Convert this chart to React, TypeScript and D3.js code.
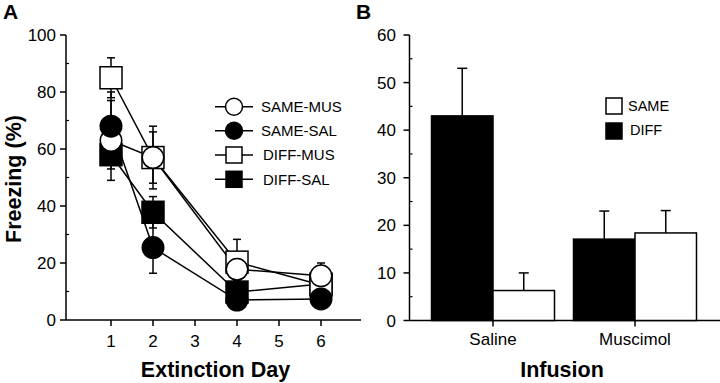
import React from "react";
import * as d3 from "d3";

// ---------- Data ----------
const days = [1, 2, 4, 6];
const seriesNames = ["SAME-MUS", "SAME-SAL", "DIFF-MUS", "DIFF-SAL"];
const sameMus = [63, 57, 17.8, 15.5];
const sameMusErr = [14, 11, 3, 4.5];
const sameSal = [68, 25.4, 7, 7.4];
const sameSalErr = [12, 9, 3, 3];
const diffMus = [85, 57, 20.3, 12.3];
const diffMusErr = [7, 9, 8, 4];
const diffSal = [58, 37.8, 9.8, 12.6];
const diffSalErr = [5, 5.5, 4, 4];
const dayTicks = [1, 2, 3, 4, 5, 6];
const freezeTicks = [0, 20, 40, 60, 80, 100];

const infusions = ["Saline", "Muscimol"];
const groups = ["DIFF", "SAME"];
const diffVals = [43, 17.1];
const diffErrs = [10, 5.9];
const sameVals = [6.3, 18.4];
const sameErrs = [3.7, 4.7];
const barTicks = [0, 10, 20, 30, 40, 50, 60];

const FONT = "'Liberation Sans', Arial, Helvetica, sans-serif";

type Series = { name: string; vals: number[]; errs: number[]; shape: "circle" | "square"; filled: boolean };
const series: Series[] = [
  { name: seriesNames[0], vals: sameMus, errs: sameMusErr, shape: "circle", filled: false },
  { name: seriesNames[1], vals: sameSal, errs: sameSalErr, shape: "circle", filled: true },
  { name: seriesNames[2], vals: diffMus, errs: diffMusErr, shape: "square", filled: false },
  { name: seriesNames[3], vals: diffSal, errs: diffSalErr, shape: "square", filled: true },
];
// drawing order of markers (bottom to top)
const markerOrder = [3, 2, 0, 1];

function Marker({ s, x, y, size }: { s: Series; x: number; y: number; size: number }) {
  const fill = s.filled ? "#000" : "#fff";
  if (s.shape === "circle") {
    return <circle cx={x} cy={y} r={size / 2} fill={fill} stroke="#000" strokeWidth={1.5} />;
  }
  return <rect x={x - size / 2} y={y - size / 2} width={size} height={size} fill={fill} stroke="#000" strokeWidth={1.5} />;
}

export default function App() {
  // Panel A scales
  const xA = d3.scaleLinear().domain([0, 7]).range([69, 363]);
  const yA = d3.scaleLinear().domain([0, 100]).range([320, 35]);
  const axisAX = 66;
  const lineGen = d3
    .line<number>()
    .x((_, i) => xA(days[i]))
    .y((v) => yA(v));
  const minorA = d3.range(10, 100, 20);

  // Panel B scales
  const xB = d3.scaleBand<string>().domain(infusions).range([422, 706]);
  const xInner = d3.scaleBand<string>().domain(groups).range([-61.5, 61.5]);
  const yB = d3.scaleLinear().domain([0, 60]).range([320.5, 35]);
  const axisBX = 409.5;
  const minorB = d3.range(5, 60, 10);

  const legendRows = [106.7, 130.7, 155, 179.3];

  return (
    <svg
      width={720}
      height={383}
      style={{ position: "absolute", left: 0, top: 0, background: "#fff" }}
      fontFamily={FONT}
    >
      <rect x={0} y={0} width={720} height={383} fill="#fff" />
      {/* ---------- Panel A ---------- */}
      <text x={3} y={19} fontSize={21} fontWeight="bold">A</text>
      {/* axes */}
      <line x1={axisAX} x2={axisAX} y1={yA(100)} y2={yA(0)} stroke="#000" strokeWidth={1.5} />
      <line x1={axisAX} x2={361} y1={yA(0)} y2={yA(0)} stroke="#000" strokeWidth={1.5} />
      {freezeTicks.map((t) => (
        <g key={"ya" + t}>
          <line x1={axisAX - 6} x2={axisAX} y1={yA(t)} y2={yA(t)} stroke="#000" strokeWidth={1.5} />
          <text x={56} y={yA(t)} dy="0.36em" textAnchor="end" fontSize={17}>{t}</text>
        </g>
      ))}
      {minorA.map((t) => (
        <line key={"yam" + t} x1={axisAX} x2={axisAX + 3} y1={yA(t)} y2={yA(t)} stroke="#000" strokeWidth={1.2} />
      ))}
      {dayTicks.map((d) => (
        <g key={"xa" + d}>
          <line x1={xA(d)} x2={xA(d)} y1={yA(0)} y2={yA(0) + 6} stroke="#000" strokeWidth={1.5} />
          <text x={xA(d)} y={347} textAnchor="middle" fontSize={17}>{d}</text>
        </g>
      ))}
      <text x={(xA(1) + xA(6)) / 2 - 0.5} y={377} textAnchor="middle" fontSize={21.5} fontWeight="bold">
        Extinction Day
      </text>
      <text
        transform={`translate(21,179) rotate(-90)`}
        textAnchor="middle"
        fontSize={21.5}
        fontWeight="bold"
      >
        Freezing (%)
      </text>
      {/* lines */}
      {series.map((s) => (
        <path key={"l" + s.name} d={lineGen(s.vals) || ""} fill="none" stroke="#000" strokeWidth={1.5} />
      ))}
      {/* error bars */}
      {series.map((s) =>
        s.vals.map((v, i) => {
          const x = xA(days[i]);
          const y1 = yA(v + s.errs[i]);
          const y2 = yA(v - s.errs[i]);
          return (
            <g key={"e" + s.name + i} stroke="#000" strokeWidth={1.5}>
              <line x1={x} x2={x} y1={y1} y2={y2} />
              <line x1={x - 4} x2={x + 4} y1={y1} y2={y1} />
              <line x1={x - 4} x2={x + 4} y1={y2} y2={y2} />
            </g>
          );
        })
      )}
      {/* markers */}
      {markerOrder.map((si) => {
        const s = series[si];
        return s.vals.map((v, i) => (
          <Marker key={"m" + s.name + i} s={s} x={xA(days[i])} y={yA(v)} size={s.shape === "circle" ? 21.5 : 22} />
        ));
      })}
      {/* legend A */}
      {series.map((s, i) => (
        <g key={"lg" + s.name}>
          <line x1={215} x2={253} y1={legendRows[i]} y2={legendRows[i]} stroke="#000" strokeWidth={1.5} />
          <Marker s={s} x={234} y={legendRows[i]} size={s.shape === "circle" ? 17 : 16} />
          <text x={s.shape === "circle" ? 261 : 263} y={legendRows[i]} dy="0.36em" fontSize={15}>
            {s.name}
          </text>
        </g>
      ))}

      {/* ---------- Panel B ---------- */}
      <text x={356} y={19} fontSize={21} fontWeight="bold">B</text>
      <line x1={axisBX} x2={axisBX} y1={yB(60)} y2={yB(0)} stroke="#000" strokeWidth={1.5} />
      <line x1={axisBX} x2={720} y1={yB(0)} y2={yB(0)} stroke="#000" strokeWidth={1.5} />
      {barTicks.map((t) => (
        <g key={"yb" + t}>
          <line x1={axisBX - 6} x2={axisBX} y1={yB(t)} y2={yB(t)} stroke="#000" strokeWidth={1.5} />
          <text x={396} y={yB(t)} dy="0.36em" textAnchor="end" fontSize={17}>{t}</text>
        </g>
      ))}
      {minorB.map((t) => (
        <line key={"ybm" + t} x1={axisBX} x2={axisBX + 3} y1={yB(t)} y2={yB(t)} stroke="#000" strokeWidth={1.2} />
      ))}
      {infusions.map((c, ci) => {
        const cx = (xB(c) as number) + xB.bandwidth() / 2;
        const bars = [
          { g: groups[0], v: diffVals[ci], e: diffErrs[ci], fill: "#000" },
          { g: groups[1], v: sameVals[ci], e: sameErrs[ci], fill: "#fff" },
        ];
        return (
          <g key={"cat" + c}>
            {bars.map((b) => {
              const bx = cx + (xInner(b.g) as number);
              const bw = xInner.bandwidth();
              const mid = bx + bw / 2;
              return (
                <g key={b.g}>
                  <line x1={mid} x2={mid} y1={yB(b.v)} y2={yB(b.v + b.e)} stroke="#000" strokeWidth={1.5} />
                  <line x1={mid - 5} x2={mid + 5} y1={yB(b.v + b.e)} y2={yB(b.v + b.e)} stroke="#000" strokeWidth={1.5} />
                  <rect x={bx} y={yB(b.v)} width={bw} height={yB(0) - yB(b.v)} fill={b.fill} stroke="#000" strokeWidth={1.5} />
                </g>
              );
            })}
            <line x1={cx} x2={cx} y1={yB(0)} y2={yB(0) + 6} stroke="#000" strokeWidth={1.5} />
            <text x={cx} y={345} textAnchor="middle" fontSize={17}>{c}</text>
          </g>
        );
      })}
      <text x={562} y={377} textAnchor="middle" fontSize={21.5} fontWeight="bold">Infusion</text>
      {/* legend B */}
      <rect x={606} y={98} width={16} height={16} fill="#fff" stroke="#000" strokeWidth={1.5} />
      <text x={628} y={111} fontSize={14.5}>SAME</text>
      <rect x={606} y={123} width={16} height={16} fill="#000" stroke="#000" strokeWidth={1.5} />
      <text x={630} y={135} fontSize={14.5}>DIFF</text>
    </svg>
  );
}
